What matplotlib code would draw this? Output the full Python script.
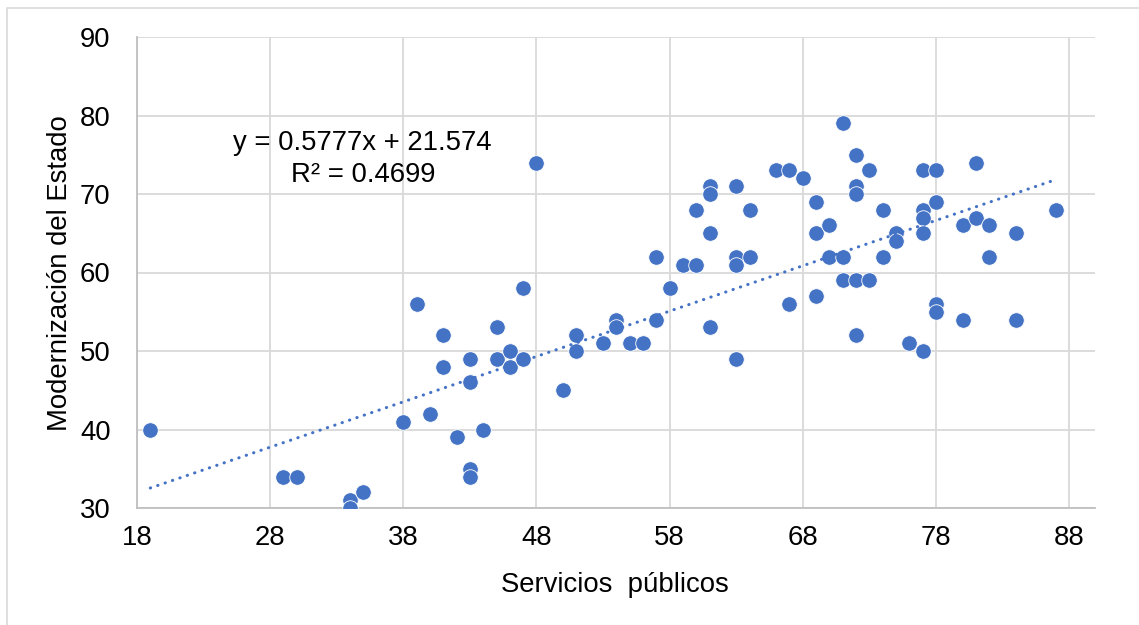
import matplotlib
matplotlib.use("Agg")
import matplotlib.pyplot as plt
from matplotlib.patches import Rectangle

# Data
servicios = [19, 29, 30, 34, 34, 35, 38, 39, 40, 41, 41, 42, 43, 43, 43, 43, 44,
             45, 45, 46, 46, 47, 47, 48, 50, 51, 51, 53, 54, 54, 55, 56,
             57, 57, 58, 59, 60, 60, 61, 61, 61, 61, 63, 63, 63, 63, 64, 64,
             66, 67, 67, 68, 69, 69, 69, 70, 70, 71, 71, 71,
             72, 72, 72, 72, 72, 73, 73, 74, 74, 75, 75, 76,
             77, 77, 77, 77, 77, 78, 78, 78, 78, 80, 80, 81, 81, 82, 82, 84, 84, 87]
modernizacion = [40, 34, 34, 31, 30, 32, 41, 56, 42, 52, 48, 39, 49, 46, 35, 34, 40,
                 53, 49, 50, 48, 58, 49, 74, 45, 52, 50, 51, 54, 53, 51, 51,
                 62, 54, 58, 61, 61, 68, 71, 70, 65, 53, 71, 62, 61, 49, 68, 62,
                 73, 73, 56, 72, 69, 65, 57, 66, 62, 79, 62, 59,
                 75, 71, 70, 59, 52, 73, 59, 68, 62, 65, 64, 51,
                 73, 68, 67, 65, 50, 73, 69, 56, 55, 66, 54, 74, 67, 66, 62, 65, 54, 68]

slope = 0.5777
intercept = 21.574
r2 = 0.4699

x_ticks = [18, 28, 38, 48, 58, 68, 78, 88]
y_ticks = [30, 40, 50, 60, 70, 80, 90]

plt.rcParams['font.family'] = ['Liberation Sans', 'DejaVu Sans']

W, H = 1139, 625
FS = 19.8
fig = plt.figure(figsize=(W / 100, H / 100), dpi=100)
fig.patch.set_facecolor('white')

# outer chart border (only top and left edges visible)
fig.patches.append(Rectangle((6.5 / W, -0.1), 1.2, 1 - 7.5 / H + 0.1,
                             transform=fig.transFigure, fill=False,
                             edgecolor='#D9D9D9', linewidth=1.2))

ax = fig.add_axes([137 / W, 1 - 508 / H, (1095 - 137) / W, (508 - 37) / H])

ax.set_xlim(18, 18 + (1095 - 136) / 13.33)
ax.set_ylim(30, 90)
ax.set_xticks(x_ticks)
ax.set_yticks(y_ticks)
ax.grid(True, color='#D9D9D9', linewidth=1.3)
ax.set_axisbelow(True)

for side in ['top', 'right']:
    ax.spines[side].set_visible(False)
for side in ['left', 'bottom']:
    ax.spines[side].set_color('#BFBFBF')
    ax.spines[side].set_linewidth(1.3)

ax.tick_params(axis='x', length=0, pad=12, labelsize=FS)
ax.tick_params(axis='y', length=0, pad=19, labelsize=FS)

ax.scatter(servicios, modernizacion, s=125, color='#4472C4',
           edgecolors='white', linewidths=0.6, zorder=3)

x0, x1 = min(servicios), max(servicios)
ax.plot([x0, x1], [slope * x0 + intercept, slope * x1 + intercept],
        color='#4472C4', linewidth=2.2, linestyle=(0, (0.1, 2.45)),
        dash_capstyle='round', zorder=4)

ax.text(34.95, 75.55, f"y = {slope}x + {intercept}", ha='center', va='baseline',
        fontsize=FS, color='black')
ax.text(34.95, 71.5, f"R² = {r2}", ha='center', va='baseline',
        fontsize=FS, color='black')

fig.text(615 / W, 1 - 592 / H, "Servicios  públicos", ha='center', va='baseline',
         fontsize=FS)
fig.text(60 / W, 1 - 273 / H, "Modernización del Estado", ha='center', va='center',
         rotation=90, fontsize=FS)

fig.savefig("out.png", dpi=100, facecolor='white')
